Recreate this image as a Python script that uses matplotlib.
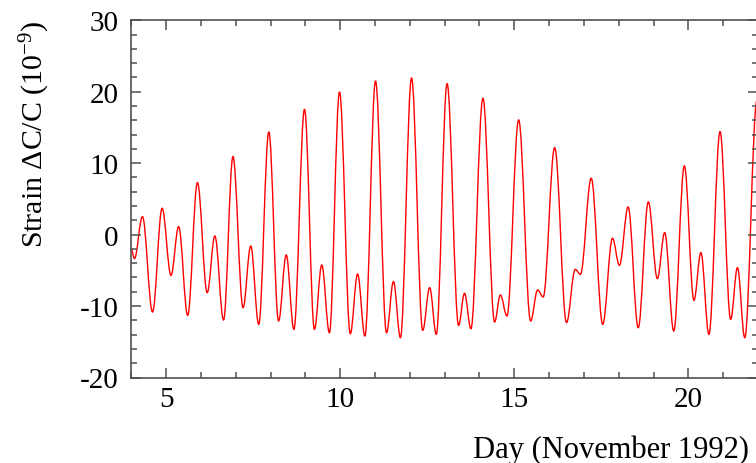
import matplotlib
matplotlib.use("Agg")
import matplotlib.pyplot as plt
from matplotlib.path import Path
from matplotlib.patches import PathPatch
from matplotlib.ticker import MultipleLocator

# Turning points of the strain record (day, strain in 1e-9)
day = [4.00, 4.09, 4.32, 4.61, 4.885, 5.14, 5.36, 5.62, 5.90, 6.18, 6.40, 6.65,
       6.92, 7.21, 7.43, 7.66, 7.95, 8.23, 8.45, 8.67, 8.975, 9.26, 9.47, 9.69,
       9.98, 10.29, 10.50, 10.71, 11.015, 11.33, 11.53, 11.73, 12.05, 12.37, 12.57, 12.76,
       13.07, 13.40, 13.57, 13.755, 14.10, 14.435, 14.60, 14.79, 15.125, 15.47, 15.67, 15.83,
       16.16, 16.50, 16.75, 16.90, 17.21, 17.54, 17.82, 18.02, 18.27, 18.56, 18.85, 19.11,
       19.32, 19.58, 19.885, 20.16, 20.36, 20.59, 20.91, 21.215, 21.41, 21.62, 21.97]
strain = [-2.0, -3.36, 2.52, -10.83, 3.69, -5.70, 1.12, -11.30, 7.28, -8.12, -0.19, -11.95,
          10.92, -10.22, -1.59, -12.56, 14.38, -12.09, -2.85, -13.26, 17.55, -13.26, -4.25, -13.73,
          19.98, -13.87, -5.51, -14.19, 21.52, -13.73, -6.58, -14.43, 21.94, -13.40, -7.42, -13.96,
          21.15, -12.70, -8.22, -13.17, 19.09, -12.23, -8.45, -11.39, 16.06, -12.09, -7.75, -8.73,
          12.18, -12.32, -4.86, -5.56, 7.89, -12.56, -0.51, -4.30, 3.87, -13.03, 4.58, -6.16,
          0.28, -13.49, 9.62, -9.20, -2.52, -13.96, 14.43, -11.86, -4.62, -14.43, 18.8]

x_ticks = [5, 10, 15, 20]
y_ticks = [-20, -10, 0, 10, 20, 30]

plt.rcParams['font.family'] = ['Liberation Serif', 'DejaVu Serif']
plt.rcParams['mathtext.fontset'] = 'custom'
plt.rcParams['mathtext.rm'] = 'Liberation Serif'
plt.rcParams['mathtext.it'] = 'Liberation Serif:italic'
plt.rcParams['axes.unicode_minus'] = False

W, H = 756, 464
fig = plt.figure(figsize=(W / 100, H / 100), dpi=100)
left, right, top, bottom = 131.3, 758.0, 21.3, 378.5
ax = fig.add_axes([left / W, 1 - bottom / H, (right - left) / W, (bottom - top) / H])

# smooth curve through turning points (horizontal tangents) drawn as Bezier path
verts = [(day[0], strain[0])]
codes = [Path.MOVETO]
k = 0.3634
for i in range(1, len(day)):
    t0, v0 = day[i - 1], strain[i - 1]
    t1, v1 = day[i], strain[i]
    d = (t1 - t0) * k
    verts += [(t0 + d, v0), (t1 - d, v1), (t1, v1)]
    codes += [Path.CURVE4, Path.CURVE4, Path.CURVE4]
curve = PathPatch(Path(verts, codes), fill=False, edgecolor='#ff0000', lw=1.0)
ax.add_patch(curve)

ax.set_xlim(4, 22)
ax.set_ylim(-20, 30)
ax.set_xticks(x_ticks)
ax.set_yticks(y_ticks)
ax.xaxis.set_minor_locator(MultipleLocator(1))
ax.yaxis.set_minor_locator(MultipleLocator(2))

spine_c = '#505050'
for s in ax.spines.values():
    s.set_color(spine_c)
    s.set_linewidth(1.2)
ax.tick_params(which='both', direction='in', top=True, right=True, color=spine_c, width=1.1)
ax.tick_params(which='major', length=7)
ax.tick_params(which='minor', length=4)
ax.tick_params(axis='x', which='major', labelsize=21, pad=6)
ax.tick_params(axis='y', which='major', labelsize=21, pad=9)

fig.text(42.7 / W, 1 - 134.5 / H, 'Strain \u0394C/C (10$^{-9}$)', rotation=90,
         rotation_mode='anchor', ha='center', va='baseline', fontsize=21.5)
fig.text(472.7 / W, 1 - 458 / H, 'Day (November 1992)', ha='left', va='baseline', fontsize=22)

fig.savefig('out.png', dpi=100)
